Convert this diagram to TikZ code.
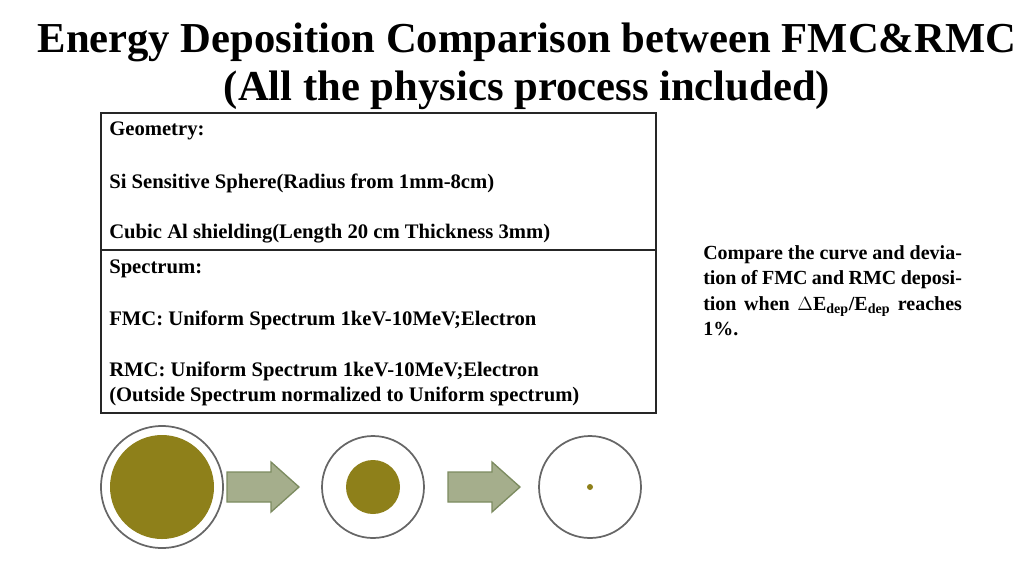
\documentclass[tikz,border=0pt]{standalone}
\usepackage{fontspec}
\setmainfont{Liberation Serif}
\begin{document}
\begin{tikzpicture}[x=0.75pt,y=-0.75pt,
  box/.style={draw=black!85,line width=0.9pt},
  lbl/.style={anchor=west,inner sep=0pt,font=\bfseries\fontsize{15.5}{18}\selectfont},
  outer/.style={draw=black!60,line width=1.3pt,fill=white},
  inner/.style={fill=olive1},
  arr/.style={fill=arrfill,draw=arrdraw,line width=1pt}]
\definecolor{olive1}{HTML}{8E801A}
\definecolor{arrfill}{HTML}{A5AE8C}
\definecolor{arrdraw}{HTML}{7C8B60}
\useasboundingbox (0,0) rectangle (1024,576);
\node[font=\bfseries\fontsize{32}{36}\selectfont,align=center] (title) at (527,66) {Energy Deposition Comparison between FMC\&RMC\\(All the physics process included)};
\draw[box] (101,113) rectangle (656,250);
\draw[box] (101,250) rectangle (656,413);
\node[lbl] (g1) at (109,131) {Geometry:};
\node[lbl] (g2) at (109,183) {Si Sensitive Sphere(Radius from 1mm-8cm)};
\node[lbl] (g3) at (109,234) {Cubic Al shielding(Length 20 cm Thickness 3mm)};
\node[lbl] (s1) at (109,269) {Spectrum:};
\node[lbl] (s2) at (109,320) {FMC: Uniform Spectrum 1keV-10MeV;Electron};
\node[lbl] (s3) at (109,371) {RMC: Uniform Spectrum 1keV-10MeV;Electron};
\node[lbl] (s4) at (109,396) {(Outside Spectrum normalized to Uniform spectrum)};
\node[anchor=north west,inner sep=0pt,text width=194pt,align=justify,font=\bfseries\fontsize{15}{19.2}\selectfont] (cmp) at (703,245) {\hyphenpenalty=10000 Compare the curve and deviation of FMC and RMC deposition when $\Delta$E\textsubscript{dep}/E\textsubscript{dep} reaches 1\%.};
\node[outer,circle,minimum size=91.5pt,inner sep=0pt] (c1) at (162,487) {};
\node[inner,circle,minimum size=78pt,inner sep=0pt] (d1) at (162,487) {};
\node[outer,circle,minimum size=76.5pt,inner sep=0pt] (c2) at (373,487) {};
\node[inner,circle,minimum size=40.5pt,inner sep=0pt] (d2) at (373,487) {};
\node[outer,circle,minimum size=76.5pt,inner sep=0pt] (c3) at (590,487) {};
\node[inner,circle,minimum size=4.5pt,inner sep=0pt] (d3) at (590,487) {};
\draw[arr] (227,472) -- (271,472) -- (271,462) -- (299,487) -- (271,512) -- (271,502) -- (227,502) -- cycle;
\draw[arr] (448,472) -- (492,472) -- (492,462) -- (520,487) -- (492,512) -- (492,502) -- (448,502) -- cycle;
\end{tikzpicture}
\end{document}
